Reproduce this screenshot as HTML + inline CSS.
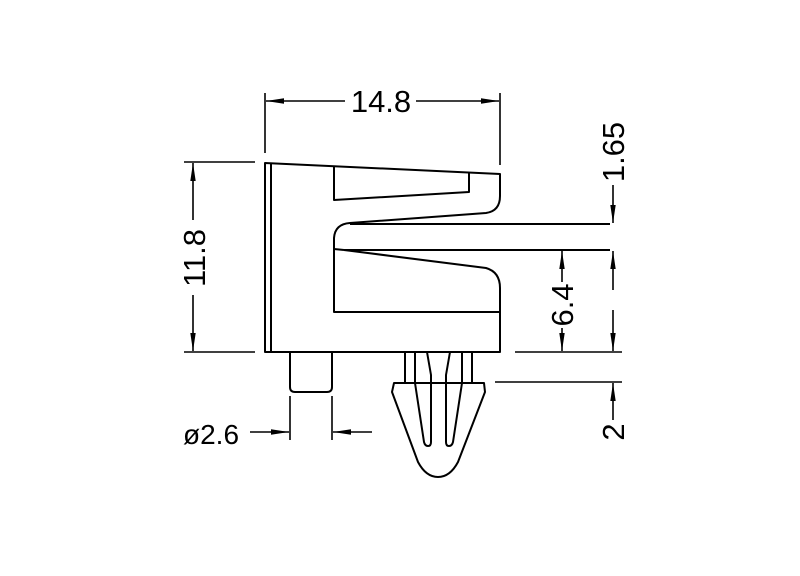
<!DOCTYPE html>
<html><head><style>html,body{margin:0;padding:0;background:#fff}svg{display:block}</style></head>
<body>
<svg width="800" height="576" viewBox="0 0 800 576" xmlns="http://www.w3.org/2000/svg">
<defs>
<marker id="a" viewBox="0 0 18 6" refX="18" refY="3" markerWidth="18" markerHeight="6" markerUnits="userSpaceOnUse" orient="auto"><path d="M0,0.3 L18,3 L0,5.7z" fill="#000"/></marker>
</defs>
<g fill="none" stroke="#000" stroke-width="2" stroke-linejoin="round">
<path d="M265,163 L500,174 L500,196 Q500,211 486,213 L350,223 Q335,224 334,238 L334,312 L500,312 L500,352 L265,352 Z"/>
<line x1="271" y1="163" x2="271" y2="352"/>
<path d="M334,167 L334,200 L469,192 L469,173"/>
<path d="M344,250 L486,268 Q500,272 500,288 L500,312"/>
<line x1="334" y1="249" x2="344" y2="250"/>
<line x1="350" y1="224" x2="610" y2="224"/>
<line x1="344" y1="250" x2="610" y2="250"/>
<path d="M290,352 L290,387 Q290,392 295,392 L327,392 Q332,392 332,387 L332,352"/>
<path d="M405,352 L405,383 M415,352 L415,383 M462,352 L462,383 M472,352 L472,383"/>
<path d="M394,383 L484,383 L485,392 L458,462 Q450,477 438,477 Q426,477 418,462 L392,392 Z"/>
<path d="M415,383 L424,442 Q425,446 428,446 Q431,446 431,442 L431,375 L427,352"/>
<path d="M462,383 L453,442 Q452,446 449,446 Q446,446 446,442 L446,375 L450,352"/>
<g stroke-width="1.6">
<line x1="265" y1="93" x2="265" y2="153"/>
<line x1="500" y1="93" x2="500" y2="165"/>
<line x1="345" y1="101" x2="266" y2="101" marker-end="url(#a)"/>
<line x1="416" y1="101" x2="499" y2="101" marker-end="url(#a)"/>
<line x1="184" y1="162" x2="255" y2="162"/>
<line x1="184" y1="352" x2="255" y2="352"/>
<line x1="193" y1="220" x2="193" y2="163" marker-end="url(#a)"/>
<line x1="193" y1="295" x2="193" y2="351" marker-end="url(#a)"/>
<line x1="290" y1="396" x2="290" y2="440"/>
<line x1="332" y1="396" x2="332" y2="440"/>
<line x1="250" y1="432" x2="289" y2="432" marker-end="url(#a)"/>
<line x1="372" y1="432" x2="333" y2="432" marker-end="url(#a)"/>
<line x1="515" y1="352" x2="622" y2="352"/>
<line x1="495" y1="382" x2="622" y2="382"/>
<line x1="613" y1="185" x2="613" y2="223" marker-end="url(#a)"/>
<line x1="613" y1="290" x2="613" y2="251" marker-end="url(#a)"/>
<line x1="613" y1="310" x2="613" y2="351" marker-end="url(#a)"/>
<line x1="613" y1="420" x2="613" y2="383" marker-end="url(#a)"/>
<line x1="562" y1="282" x2="562" y2="251" marker-end="url(#a)"/>
<line x1="562" y1="328" x2="562" y2="351" marker-end="url(#a)"/>
</g>
</g>
<g font-family="Liberation Sans, sans-serif" font-size="31" fill="#000">
<text x="381" y="112" text-anchor="middle">14.8</text>
<text transform="translate(205,258) rotate(-90)" text-anchor="middle">11.8</text>
<text x="183" y="444" font-size="28">ø2.6</text>
<text transform="translate(624,152) rotate(-90)" text-anchor="middle">1.65</text>
<text transform="translate(573,305) rotate(-90)" text-anchor="middle">6.4</text>
<text transform="translate(624,432) rotate(-90)" text-anchor="middle">2</text>
</g>
</svg>
</body></html>
